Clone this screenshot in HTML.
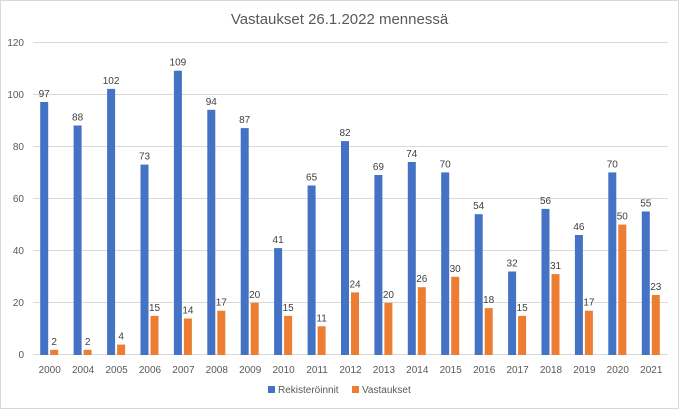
<!DOCTYPE html>
<html><head><meta charset="utf-8"><style>body{margin:0;background:#fff}svg{display:block}</style></head><body>
<svg width="679" height="409" xmlns="http://www.w3.org/2000/svg" font-family="Liberation Sans, sans-serif">
<rect x="0.5" y="0.5" width="678" height="408" fill="#fff" stroke="#d9d9d9"/>
<text x="339.5" y="24" text-anchor="middle" font-size="15" fill="#595959">Vastaukset 26.1.2022 mennessä</text>
<g stroke="#d9d9d9" stroke-width="1">
<line x1="33" x2="668" y1="42.5" y2="42.5"/><line x1="33" x2="668" y1="94.5" y2="94.5"/><line x1="33" x2="668" y1="146.5" y2="146.5"/><line x1="33" x2="668" y1="198.5" y2="198.5"/><line x1="33" x2="668" y1="250.5" y2="250.5"/><line x1="33" x2="668" y1="302.5" y2="302.5"/><line x1="33" x2="668" y1="354.5" y2="354.5"/>
</g>
<g font-size="10" fill="#595959" text-anchor="end">
<text x="24" y="46">120</text><text x="24" y="98">100</text><text x="24" y="150">80</text><text x="24" y="202">60</text><text x="24" y="254">40</text><text x="24" y="306">20</text><text x="24" y="358">0</text>
</g>
<g fill="#4472c4">
<rect x="40.2" y="102.0" width="8" height="253.0"/>
<rect x="73.6" y="125.5" width="8" height="229.5"/>
<rect x="107.1" y="88.9" width="8" height="266.1"/>
<rect x="140.5" y="164.6" width="8" height="190.4"/>
<rect x="173.9" y="70.7" width="8" height="284.3"/>
<rect x="207.3" y="109.8" width="8" height="245.2"/>
<rect x="240.7" y="128.1" width="8" height="226.9"/>
<rect x="274.1" y="248.1" width="8" height="106.9"/>
<rect x="307.6" y="185.5" width="8" height="169.5"/>
<rect x="341.0" y="141.1" width="8" height="213.9"/>
<rect x="374.4" y="175.0" width="8" height="180.0"/>
<rect x="407.8" y="162.0" width="8" height="193.0"/>
<rect x="441.2" y="172.4" width="8" height="182.6"/>
<rect x="474.7" y="214.2" width="8" height="140.8"/>
<rect x="508.1" y="271.5" width="8" height="83.5"/>
<rect x="541.5" y="208.9" width="8" height="146.1"/>
<rect x="574.9" y="235.0" width="8" height="120.0"/>
<rect x="608.3" y="172.4" width="8" height="182.6"/>
<rect x="641.8" y="211.5" width="8" height="143.5"/>
</g>
<g fill="#ed7d31">
<rect x="50.2" y="349.8" width="8" height="5.2"/>
<rect x="83.6" y="349.8" width="8" height="5.2"/>
<rect x="117.1" y="344.6" width="8" height="10.4"/>
<rect x="150.5" y="315.9" width="8" height="39.1"/>
<rect x="183.9" y="318.5" width="8" height="36.5"/>
<rect x="217.3" y="310.7" width="8" height="44.3"/>
<rect x="250.7" y="302.8" width="8" height="52.2"/>
<rect x="284.1" y="315.9" width="8" height="39.1"/>
<rect x="317.6" y="326.3" width="8" height="28.7"/>
<rect x="351.0" y="292.4" width="8" height="62.6"/>
<rect x="384.4" y="302.8" width="8" height="52.2"/>
<rect x="417.8" y="287.2" width="8" height="67.8"/>
<rect x="451.2" y="276.8" width="8" height="78.2"/>
<rect x="484.7" y="308.1" width="8" height="46.9"/>
<rect x="518.1" y="315.9" width="8" height="39.1"/>
<rect x="551.5" y="274.1" width="8" height="80.9"/>
<rect x="584.9" y="310.7" width="8" height="44.3"/>
<rect x="618.3" y="224.6" width="8" height="130.4"/>
<rect x="651.8" y="295.0" width="8" height="60.0"/>
</g>
<g font-size="10" fill="#404040" text-anchor="middle">
<text x="44.2" y="97">97</text><text x="77.6" y="120.5">88</text><text x="111.1" y="83.9">102</text><text x="144.5" y="159.6">73</text><text x="177.9" y="65.7">109</text><text x="211.3" y="104.8">94</text><text x="244.7" y="123.1">87</text><text x="278.1" y="243.1">41</text><text x="311.6" y="180.5">65</text><text x="345.0" y="136.1">82</text><text x="378.4" y="170">69</text><text x="411.8" y="157">74</text><text x="445.2" y="167.4">70</text><text x="478.7" y="209.2">54</text><text x="512.1" y="266.5">32</text><text x="545.5" y="203.9">56</text><text x="578.9" y="230">46</text><text x="612.3" y="167.4">70</text><text x="645.8" y="206.5">55</text>
<text x="54.2" y="344.8">2</text><text x="87.6" y="344.8">2</text><text x="121.1" y="339.6">4</text><text x="154.5" y="310.9">15</text><text x="187.9" y="313.5">14</text><text x="221.3" y="305.7">17</text><text x="254.7" y="297.8">20</text><text x="288.1" y="310.9">15</text><text x="321.6" y="321.3">11</text><text x="355.0" y="287.4">24</text><text x="388.4" y="297.8">20</text><text x="421.8" y="282.2">26</text><text x="455.2" y="271.8">30</text><text x="488.7" y="303.1">18</text><text x="522.1" y="310.9">15</text><text x="555.5" y="269.1">31</text><text x="588.9" y="305.7">17</text><text x="622.3" y="219.6">50</text><text x="655.8" y="290">23</text>
</g>
<g font-size="10" fill="#595959" text-anchor="middle">
<text x="49.7" y="373">2000</text><text x="83.1" y="373">2004</text><text x="116.6" y="373">2005</text><text x="150.0" y="373">2006</text><text x="183.4" y="373">2007</text><text x="216.8" y="373">2008</text><text x="250.2" y="373">2009</text><text x="283.6" y="373">2010</text><text x="317.1" y="373">2011</text><text x="350.5" y="373">2012</text><text x="383.9" y="373">2013</text><text x="417.3" y="373">2014</text><text x="450.7" y="373">2015</text><text x="484.2" y="373">2016</text><text x="517.6" y="373">2017</text><text x="551.0" y="373">2018</text><text x="584.4" y="373">2019</text><text x="617.8" y="373">2020</text><text x="651.3" y="373">2021</text>
</g>
<g font-size="10" fill="#595959">
<rect x="268" y="386" width="7" height="7" fill="#4472c4"/><text x="278" y="393">Rekisteröinnit</text>
<rect x="352" y="386" width="7" height="7" fill="#ed7d31"/><text x="362" y="393">Vastaukset</text>
</g>
</svg>
</body></html>
